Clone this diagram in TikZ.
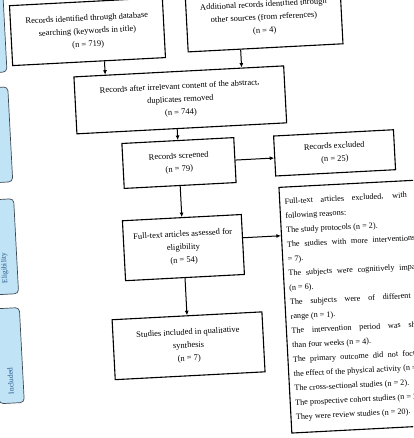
\documentclass[tikz,border=0pt]{standalone}
\usepackage{fontspec}
\setmainfont{Liberation Serif}
\usetikzlibrary{arrows.meta,positioning,calc}
\definecolor{phasefill}{HTML}{C0E4F6}
\definecolor{phaseline}{HTML}{3E4852}
\definecolor{phasetext}{HTML}{24578C}
\newcommand{\boxfont}{\fontsize{8.5}{13}\selectfont}
\newcommand{\notefont}{\fontsize{8.2}{14.4}\selectfont}

\begin{document}
\begin{tikzpicture}[
  x=1pt, y=-1pt,
  box/.style={rectangle, draw=black, line width=1.1pt, fill=white,
              align=center, font=\boxfont, inner sep=2pt},
  phase/.style={rectangle, draw=phaseline, line width=0.7pt, rounded corners=4pt,
                fill=phasefill, minimum width=25pt, minimum height=95pt},
  phaselbl/.style={rotate=90, font=\fontsize{7.5}{8}\selectfont, text=phasetext},
  arr/.style={-{Latex[length=4.5pt,width=4pt]}, line width=1pt},
]
\useasboundingbox (0,0) rectangle (413,438);
\clip (0,0) rectangle (413,438);
\begin{scope}[rotate around={3:(200,220)}, transform shape]
% Phases
\node[phase] (ident) at (2.5,14.5) {};
\node[phase] (screen) at (2.5,124.5) {};
\node[phase] (elig) at (2.5,236.5) {};
\node[phase] (incl) at (2.5,345.5) {};
\node[phaselbl] (eliglbl) at (2.5,258) {Eligibility};
\node[phaselbl] (incllbl) at (2.5,371) {Included};

% Identification
\node[box, minimum width=153pt, minimum height=60pt] (dbrecs) at (97.5,26)
  {Records identified through database\\searching (keywords in title)\\(n = 719)};
\node[box, minimum width=155pt, minimum height=60pt] (othrecs) at (274.5,21.5)
  {Additional records identified through\\other sources (from references)\\(n = 4)};
\node[box, minimum width=210pt, minimum height=57pt] (after) at (186.6,99)
  {Records after irrelevant content of the abstract,\\duplicates removed\\(n = 744)};

% Screening
\node[box, minimum width=112pt, minimum height=45pt] (screened) at (182,162)
  {Records screened\\(n = 79)};
\node[box, minimum width=120pt, minimum height=40pt] (excluded) at (337.9,160)
  {Records excluded\\(n = 25)};

% Eligibility
\node[box, minimum width=119pt, minimum height=60pt] (fulltext) at (182,246.7)
  {Full-text articles assessed for\\eligibility\\(n = 54)};
\node[box, anchor=north west, text width=140pt, minimum height=246pt,
      align=justify, font=\notefont, inner sep=5pt] (ftexcl) at (280,191)
  {Full-text articles excluded, with the\linebreak following reasons:\\
   The study protocols (n = 2).\\
   The studies with more interventions (n\linebreak = 7).\\
   The subjects were cognitively impaired\linebreak (n = 6).\\
   The subjects were of different age\linebreak range (n = 1).\\
   The intervention period was shorter\linebreak than four weeks (n = 4).\\
   The primary outcome did not focus on\linebreak the effect of the physical activity (n = 3).\\
   The cross-sectional studies (n = 2).\\
   The prospective cohort studies (n = 2).\\
   They were review studies (n = 20).};

% Included
\node[box, minimum width=150pt, minimum height=60pt] (included) at (182,345)
  {Studies included in qualitative\\synthesis\\(n = 7)};

% Arrows
\coordinate (dbout) at ($(dbrecs.south west)!0.6!(dbrecs.south east)$);
\coordinate (othout) at ($(othrecs.south west)!0.34!(othrecs.south east)$);
\coordinate (ftout) at ($(fulltext.north east)!0.39!(fulltext.south east)$);
\draw[arr] (dbout) -- ($(after.north west)!(dbout)!(after.north east)$);
\draw[arr] (othout) -- ($(after.north west)!(othout)!(after.north east)$);
\draw[arr] ($(after.south west)!(screened.north)!(after.south east)$) -- (screened.north);
\draw[arr] (screened.east) -- ($(excluded.north west)!(screened.east)!(excluded.south west)$);
\draw[arr] (screened.south) -- (fulltext.north);
\draw[arr] (ftout) -- ($(ftexcl.north west)!(ftout)!(ftexcl.south west)$);
\draw[arr] (fulltext.south) -- (included.north);
\end{scope}
\end{tikzpicture}
\end{document}
